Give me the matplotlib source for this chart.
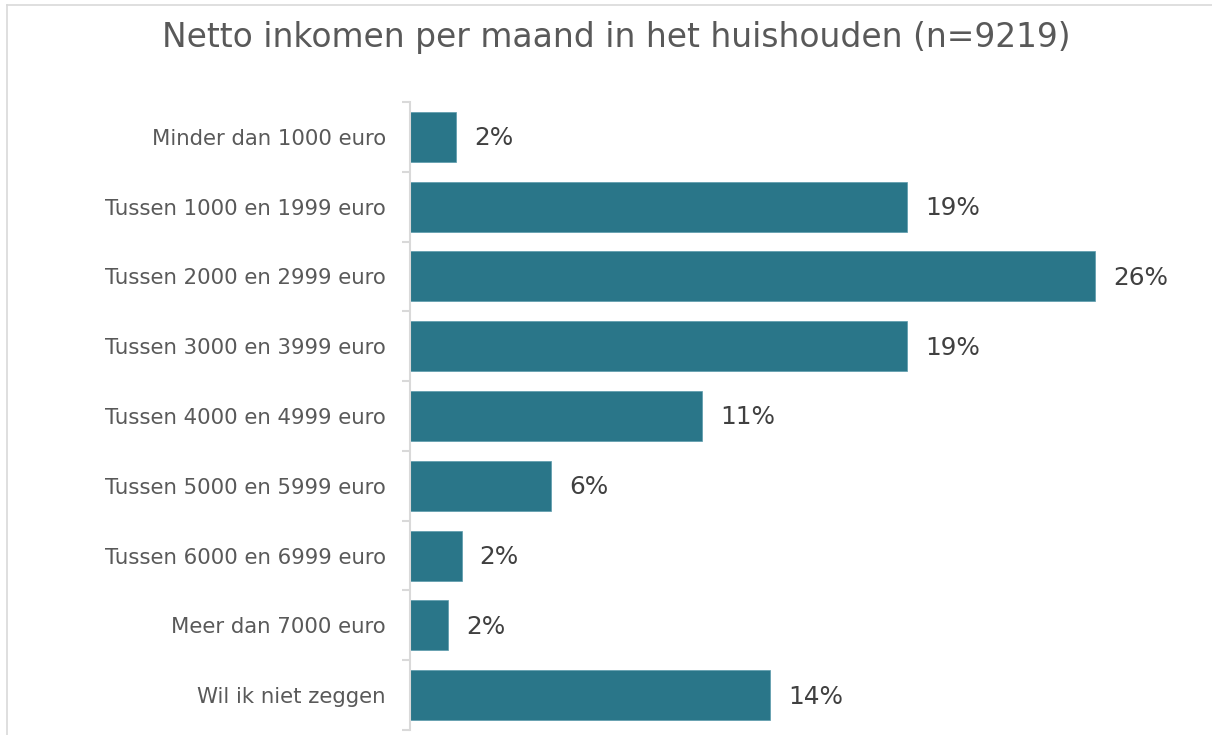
import matplotlib
matplotlib.use("Agg")
import matplotlib.pyplot as plt
from matplotlib.lines import Line2D
import numpy as np

categories = [
    "Minder dan 1000 euro",
    "Tussen 1000 en 1999 euro",
    "Tussen 2000 en 2999 euro",
    "Tussen 3000 en 3999 euro",
    "Tussen 4000 en 4999 euro",
    "Tussen 5000 en 5999 euro",
    "Tussen 6000 en 6999 euro",
    "Meer dan 7000 euro",
    "Wil ik niet zeggen",
]
values = [1.75, 18.88, 26.0, 18.88, 11.07, 5.35, 1.96, 1.46, 13.66]
value_labels = ["2%", "19%", "26%", "19%", "11%", "6%", "2%", "2%", "14%"]
title = "Netto inkomen per maand in het huishouden (n=9219)"

W, H = 1212, 735
fig = plt.figure(figsize=(W / 100, H / 100), dpi=100)
fig.patch.set_facecolor("white")

ax_left, ax_right = 410, 1190
ax_top, ax_bottom = 102, 730
ax = fig.add_axes([ax_left / W, (H - ax_bottom) / H,
                   (ax_right - ax_left) / W, (ax_bottom - ax_top) / H])

y = np.arange(len(categories))
bars = ax.barh(y, values, height=0.716, color="#2A7689", edgecolor="#5A9AAB",
               linewidth=0.5)
ax.set_xlim(0, (ax_right - ax_left) / 26.35)
ax.set_ylim(len(categories) - 0.5, -0.5)

for b, lab in zip(bars, value_labels):
    ax.annotate(lab, xy=(b.get_width(), b.get_y() + b.get_height() / 2),
                xytext=(13, -1), textcoords="offset points",
                ha="left", va="center", fontsize=17.8, color="#404040")

ax.set_yticks(y)
ax.set_yticklabels(categories, fontsize=15.3, color="#595959")
ax.tick_params(axis="y", which="major", length=0, pad=17.5)
ax.set_yticks(np.arange(len(categories) + 1) - 0.5, minor=True)
ax.tick_params(axis="y", which="minor", length=6, width=1.5, color="#D9D9D9")
ax.set_xticks([])

for s in ["top", "right", "bottom"]:
    ax.spines[s].set_visible(False)
ax.spines["left"].set_color("#D9D9D9")
ax.spines["left"].set_linewidth(1.5)

fig.text(616 / W, 1 - 37 / H, title, ha="center", va="center",
         fontsize=23.7, color="#595959")

# chart frame (partial, as in screenshot)
fig.add_artist(Line2D([7 / W, 1.0], [1 - 5 / H, 1 - 5 / H],
                      transform=fig.transFigure, color="#D9D9D9", lw=1.2))
fig.add_artist(Line2D([7 / W, 7 / W], [0, 1 - 5 / H],
                      transform=fig.transFigure, color="#D9D9D9", lw=1.2))

fig.savefig("out.png", dpi=100, facecolor="white")
